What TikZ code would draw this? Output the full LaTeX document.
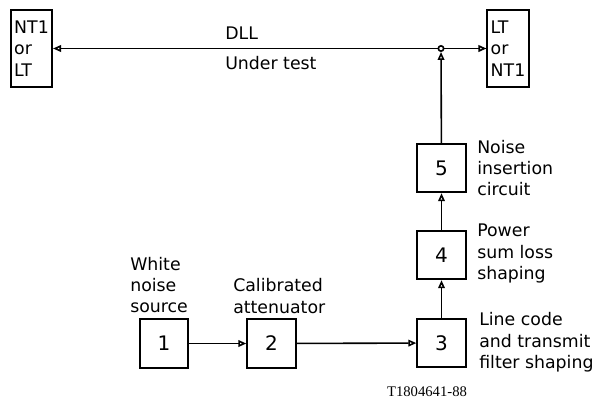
\documentclass[tikz,border=0pt]{standalone}
\usepackage{fontspec}
\setmainfont{DejaVu Sans}
\newfontfamily\idfont{Liberation Serif}
\usetikzlibrary{arrows.meta,positioning}

\begin{document}
\begin{tikzpicture}[
    x=0.75pt, y=-0.75pt,
    every node/.style={font=\fontsize{13}{16}\selectfont},
    blk/.style={rectangle, draw, line width=1.3pt, minimum size=36.5pt, inner sep=0pt,
                font=\fontsize{15}{16}\selectfont},
    term/.style={rectangle, draw, line width=1.3pt, minimum width=31pt, minimum height=58pt,
                 inner sep=1pt, align=left},
    lbl/.style={anchor=west, align=left, inner sep=0pt},
    e/.style={line width=1.2pt, -{Triangle[open, length=6pt, width=5pt]}},
  ]
  \useasboundingbox (0,0) rectangle (599,401);
  \node[term] (ntl) at (31.5, 48.5) {NT1\\or\\LT};
  \node[term] (ltr) at (508, 48.5) {LT\\or\\NT1};
  \node[circle, draw, line width=1.2pt, minimum size=4pt, inner sep=0pt] (jn) at (441, 48.5) {};
  \node[blk] (b1) at (164, 343.5) {1};
  \node[blk] (b2) at (271.5, 343.5) {2};
  \node[blk] (b3) at (441.5, 343) {3};
  \node[blk] (b4) at (441.5, 255) {4};
  \node[blk] (b5) at (441.5, 168) {5};
  % labels
  \node[lbl] at (225, 33.5) {DLL};
  \node[lbl] at (225, 63.5) {Under test};
  \node[lbl] at (130, 285) {White\\noise\\source};
  \node[lbl] at (233, 296) {Calibrated\\attenuator};
  \node[lbl] at (477, 168) {Noise\\insertion\\circuit};
  \node[lbl] at (477, 253.5) {Power\\sum loss\\shaping};
  \node[lbl] at (479, 342.5) {Line code\\and transmit\\filter shaping};
  \node[font=\idfont\fontsize{11}{12}\selectfont] (id) at (427, 392) {T1804641-88};
  % connectors
  \draw[e] (jn) -- (ntl);
  \draw[e] (jn) -- (ltr);
  \draw[e] (b5) -- (jn);
  \draw[e] (b4) -- (b5);
  \draw[e] (b3) -- (b4);
  \draw[e] (b2) -- (b3);
  \draw[e] (b1) -- (b2);
\end{tikzpicture}
\end{document}
